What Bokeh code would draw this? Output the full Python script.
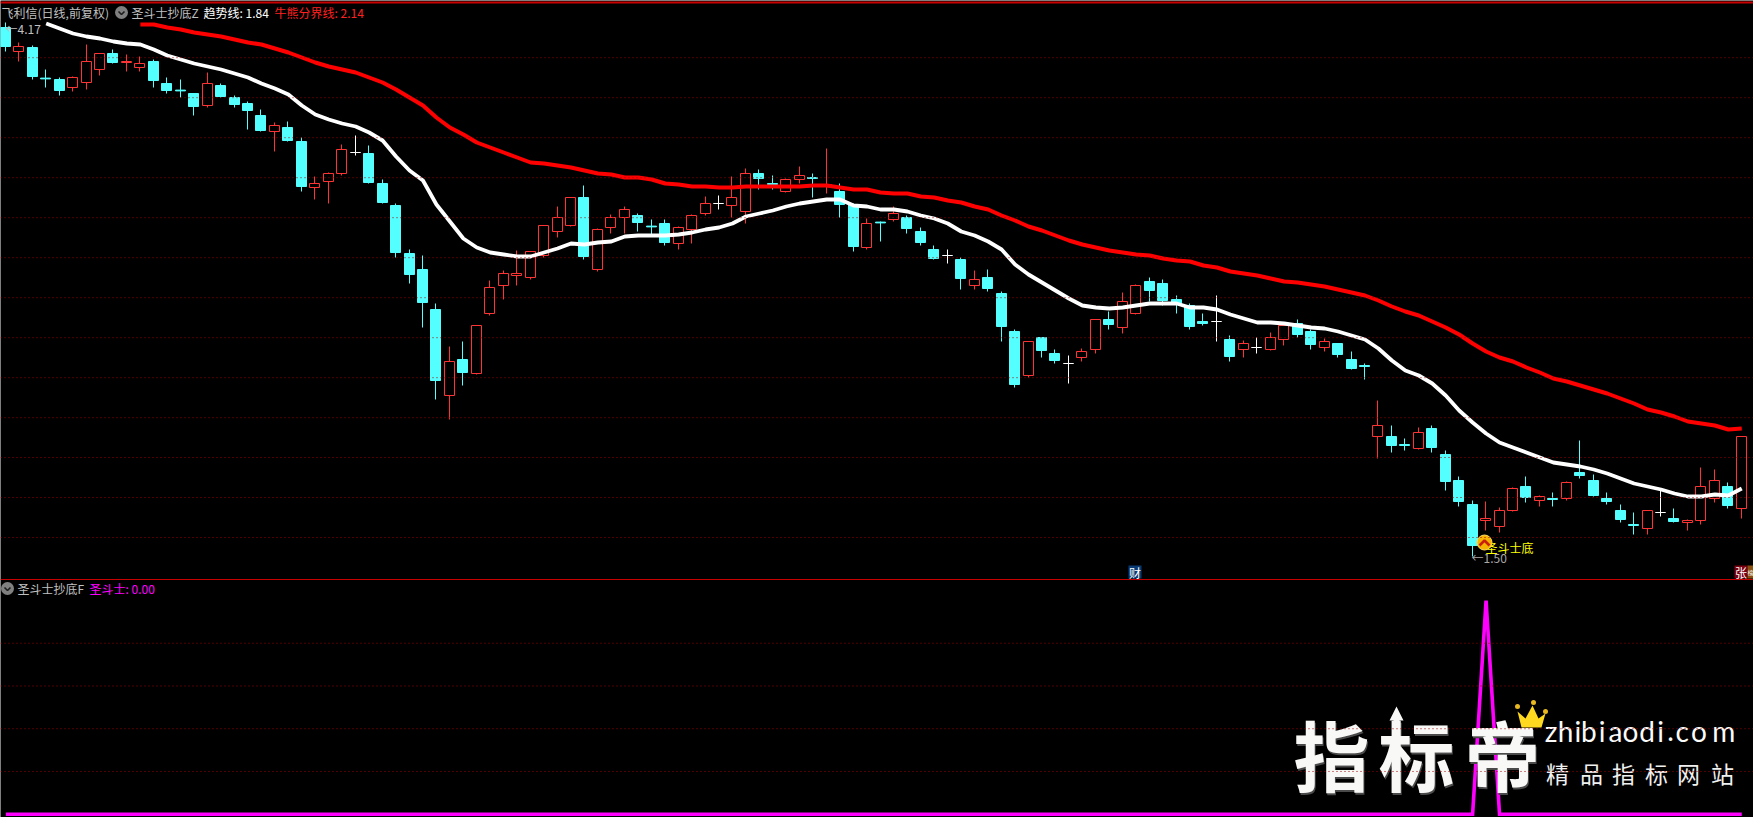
import math
from bokeh.plotting import figure
from bokeh.models import Range1d, Span, ColumnDataSource
from bokeh.core.properties import value
from bokeh.embed import file_html
from bokeh.resources import INLINE

highs = [4.17,4.07,4.055,3.935,3.895,3.9,4.06,4.015,4.035,4.01, 4.0,3.985,3.895,3.885,3.815,3.92,3.865,3.805,3.775,3.735,
 3.67,3.675,3.595,3.4,3.42,3.56,3.605,3.555,3.385,3.265, 3.035,3.005,2.765,2.55,2.575,2.655,2.88,2.93,3.03,3.025,
 3.155,3.25,3.295,3.355,3.14,3.21,3.25,3.215,3.185,3.185, 3.15,3.21,3.3,3.305,3.4,3.44,3.435,3.405,3.39,3.45,
 3.415,3.54,3.365,3.265,3.19,3.175,3.25,3.205,3.145,3.055, 3.035,2.995,2.93,2.935,2.825,2.635,2.575,2.595,2.535,2.505,
 2.54,2.685,2.725,2.82,2.86,2.895,2.885,2.805,2.765,2.715, 2.805,2.605,2.58,2.595,2.62,2.655,2.685,2.635,2.59,2.565,
 2.525,2.465,2.28,2.155,2.09,2.145,2.155,2.03,1.9,1.78, 1.775,1.745,1.845,1.9,1.805,1.82,1.875,2.08,1.91,1.82,
 1.76,1.72,1.73,1.83,1.74,1.685,1.945,1.935,1.87,2.1]
lows = [4.025,3.975,3.885,3.845,3.805,3.825,3.835,3.905,3.965,3.925, 3.925,3.845,3.815,3.795,3.705,3.745,3.795,3.745,3.635,3.625,
 3.525,3.575,3.325,3.285,3.265,3.405,3.505,3.365,3.265,2.995, 2.865,2.645,2.285,2.185,2.355,2.41,2.705,2.785,2.855,2.885,
 2.995,3.095,3.15,2.985,2.925,3.115,3.115,3.125,3.105,3.055, 3.035,3.065,3.205,3.235,3.195,3.165,3.335,3.335,3.32,3.365,
 3.295,3.315,3.195,3.025,3.035,3.075,3.175,3.115,3.055,2.985, 2.965,2.835,2.835,2.825,2.575,2.345,2.395,2.495,2.465,2.365,
 2.475,2.515,2.635,2.615,2.71,2.775,2.755,2.715,2.635,2.655, 2.575,2.475,2.495,2.515,2.53,2.555,2.595,2.535,2.525,2.495,
 2.435,2.385,1.99,2.02,2.03,2.035,2.02,1.83,1.75,1.5, 1.63,1.62,1.725,1.77,1.75,1.75,1.78,1.89,1.8,1.76,
 1.67,1.61,1.61,1.7,1.67,1.63,1.66,1.77,1.74,1.69]
opens = [4.145,4.02,4.045,3.892,3.885,3.84,3.865,3.93,4.015,3.965, 3.94,3.975,3.865,3.832,3.815,3.75,3.855,3.795,3.765,3.705,
 3.62,3.645,3.575,3.34,3.37,3.41,3.52,3.515,3.365,3.255, 3.015,2.935,2.735,2.30,2.485,2.41,2.71,2.85,2.90,2.89,
 3.0,3.12,3.15,3.295,2.93,3.14,3.19,3.205,3.152,3.165, 3.06,3.13,3.21,3.265,3.25,3.22,3.415,3.365,3.32,3.38,
 3.395,3.355,3.325,3.26,3.04,3.172,3.18,3.195,3.125,3.035, 3.005,2.985,2.85,2.895,2.815,2.625,2.40,2.595,2.515,2.465,
 2.49,2.53,2.685,2.64,2.71,2.875,2.865,2.785,2.755,2.675, 2.675,2.585,2.53,2.545,2.53,2.58,2.665,2.625,2.54,2.565,
 2.485,2.455,2.095,2.10,2.06,2.035,2.14,2.01,1.88,1.76, 1.675,1.645,1.725,1.85,1.775,1.79,1.785,1.92,1.88,1.79,
 1.73,1.66,1.635,1.72,1.69,1.665,1.675,1.785,1.85,1.735]
closes = [4.045,4.05,3.895,3.888,3.825,3.895,3.975,4.015,3.965,3.975, 3.965,3.875,3.825,3.828,3.745,3.865,3.795,3.755,3.725,3.625,
 3.655,3.575,3.345,3.365,3.415,3.535,3.52,3.365,3.265,3.015, 2.905,2.765,2.375,2.475,2.415,2.655,2.845,2.915,2.915,3.025,
 3.155,3.195,3.295,2.995,3.135,3.195,3.235,3.165,3.148,3.065, 3.145,3.205,3.265,3.265,3.295,3.415,3.385,3.36,3.385,3.405,
 3.385,3.36,3.255,3.045,3.165,3.168,3.215,3.135,3.065,2.985, 3.005,2.885,2.885,2.835,2.645,2.355,2.575,2.525,2.475,2.465,
 2.525,2.685,2.655,2.775,2.855,2.825,2.775,2.76,2.645,2.665, 2.675,2.495,2.565,2.545,2.595,2.655,2.605,2.555,2.575,2.505,
 2.435,2.445,2.155,2.05,2.05,2.12,2.04,1.87,1.77,1.55, 1.69,1.73,1.84,1.79,1.80,1.78,1.87,1.90,1.80,1.77,
 1.68,1.65,1.73,1.72,1.67,1.68,1.85,1.88,1.75,2.10]
trend_line = [4.165,4.14,4.115,4.10,4.09,4.075,4.065,4.06,4.035,4.005,3.985,3.965,3.95,3.935,3.915,3.895,3.865,3.84,3.81,3.755,
 3.71,3.685,3.665,3.65,3.62,3.58,3.50,3.43,3.38,3.26,3.175,3.09,3.045,3.02,3.01,3.00,3.00,3.02,3.04,3.065,
 3.06,3.07,3.075,3.10,3.105,3.105,3.105,3.11,3.12,3.135,3.145,3.165,3.20,3.215,3.23,3.25,3.265,3.275,3.285,3.285,
 3.255,3.25,3.235,3.235,3.225,3.205,3.19,3.165,3.125,3.105,3.075,3.035,2.96,2.91,2.87,2.83,2.79,2.755,2.745,2.74,
 2.745,2.755,2.765,2.765,2.765,2.745,2.745,2.735,2.71,2.69,2.67,2.67,2.665,2.655,2.645,2.64,2.625,2.605,2.585,2.54,
 2.48,2.43,2.405,2.365,2.305,2.23,2.17,2.115,2.07,2.045,2.02,1.995,1.97,1.96,1.95,1.935,1.915,1.89,1.865,1.85,
 1.835,1.815,1.80,1.80,1.81,1.805,1.84]
bull_bear_line = [4.16,4.16,4.145,4.135,4.12,4.11,4.10,4.085,4.07,4.06,4.04,4.02,3.995,3.97,3.95,3.935,3.92,3.895,3.87,3.835,
 3.795,3.755,3.695,3.645,3.61,3.57,3.545,3.52,3.495,3.47,3.465,3.455,3.445,3.43,3.415,3.41,3.395,3.395,3.385,3.365,
 3.36,3.35,3.35,3.345,3.345,3.35,3.35,3.35,3.35,3.35,3.355,3.355,3.345,3.335,3.335,3.32,3.315,3.315,3.30,3.295,
 3.28,3.27,3.25,3.235,3.205,3.18,3.15,3.13,3.105,3.08,3.06,3.045,3.03,3.02,3.01,3.005,2.99,2.98,2.975,2.955,
 2.945,2.925,2.915,2.905,2.89,2.875,2.87,2.86,2.85,2.835,2.82,2.805,2.78,2.75,2.725,2.705,2.675,2.645,2.61,2.565,
 2.525,2.495,2.475,2.445,2.42,2.39,2.375,2.355,2.335,2.315,2.29,2.265,2.235,2.22,2.20,2.175,2.165,2.155,2.135,2.14]
signal = [0]*110 + [1] + [0]*19
price_grid = [3.994,3.794,3.594,3.394,3.194,2.994,2.794,2.594,2.394,2.194,1.995,1.795,1.595]
signal_grid = [0.8,0.6,0.4,0.2]

CYAN, RED, WHITE = "#54ffff", "#ff3333", "#ffffff"
FONT = "Noto Sans CJK SC"
SPACING = 13.457
N = len(closes)

def xd(px): return (px - 5.3) / SPACING
def yd(py): return 4.28 - py / 200
def snap(i):
    # the pixel column the bar falls in, as a bar position (the renderer adds half a pixel itself)
    return xd(math.floor(5.3 + SPACING * i))

p = figure(width=1753, height=817, output_backend="svg", toolbar_location=None,
           x_range=Range1d(xd(0), xd(1753)), y_range=Range1d(yd(817), yd(0)),
           background_fill_color="#000000", border_fill_color="#000000",
           min_border=0, outline_line_color=None, x_axis_location=None, y_axis_location=None)
p.grid.visible = False
p.extra_y_ranges = {"sub": Range1d(-3.3 / 213.7, 813.7 / 213.7)}

for g in price_grid:
    p.add_layout(Span(location=g, dimension="width", line_color="#a00000", line_width=1, line_dash="1 3"))
for g in signal_grid:
    p.add_layout(Span(location=g, dimension="width", y_range_name="sub", line_color="#a00000", line_width=1, line_dash="1 3"))
for py, w in ((2, 2), (579, 1)):
    p.add_layout(Span(location=yd(py), dimension="width", line_color="#c80000", line_width=w))

# candles
idx = {"c": [], "r": [], "w": []}
for i in range(N):
    idx["r" if closes[i] > opens[i] else "c" if closes[i] < opens[i] else "w"].append(i)
half = 5 / SPACING
for k, col, fill in (("c", CYAN, CYAN), ("r", RED, None), ("w", WHITE, None)):
    ii = idx[k]
    tops = [max(opens[i], closes[i]) for i in ii]
    bots = [min(opens[i], closes[i]) for i in ii]
    bots = [b + 0.005 if t - b >= 0.01 else b for t, b in zip(tops, bots)]
    src = ColumnDataSource(dict(
        x=[snap(i) for i in ii],
        hi=[highs[i] for i in ii], lo=[lows[i] for i in ii],
        top=tops, bot=bots,
        left=[snap(i) - half for i in ii], right=[snap(i) + half for i in ii]))
    # the wick stops at the body for a hollow candle
    if k == "r":
        p.segment(x0="x", y0="hi", x1="x", y1="top", source=src, line_color=col, line_width=1)
        p.segment(x0="x", y0="bot", x1="x", y1="lo", source=src, line_color=col, line_width=1)
    else:
        p.segment(x0="x", y0="hi", x1="x", y1="lo", source=src, line_color=col, line_width=1)
    p.quad(left="left", right="right", top="top", bottom="bot", source=src,
           fill_color=fill, line_color=col, line_width=1)

p.line(list(range(N - len(trend_line), N)), trend_line, line_color=WHITE, line_width=3.8)
p.line(list(range(N - len(bull_bear_line), N)), bull_bear_line, line_color="#ff0000", line_width=4)
p.line(list(range(N)), signal, y_range_name="sub", line_color="#ff00ff", line_width=3.6, line_join="miter")

def txt(px, py, s, color, size=12, align="left", bold=False, font=FONT):
    p.text(x=[xd(px)], y=[yd(py)], text=[s], text_color=color, text_font=value(font),
           text_font_size=f"{size}px", text_align=align, text_baseline="middle",
           text_font_style="bold" if bold else "normal")

def icon(px, py):
    p.scatter([xd(px)], [yd(py)], size=13, marker="circle", fill_color="#808080", line_color=None)
    p.line([xd(px - 3), xd(px), xd(px + 3)], [yd(py - 1), yd(py + 2), yd(py - 1)], line_color="#1c1c1c", line_width=1.6)

# header rows
txt(1, 12, "飞利信(日线,前复权)", "#c0c0c0")
icon(121, 12)
txt(131, 12, "圣斗士抄底Z", "#c0c0c0")
txt(203, 12, "趋势线: 1.84", WHITE)
txt(274, 12, "牛熊分界线: 2.14", "#ff2020")
icon(7, 588)
txt(17, 588, "圣斗士抄底F", "#c0c0c0")
txt(89, 588, "圣斗士: 0.00", "#ff00ff")

# extreme price notes
txt(5, 28, "←4.17", "#c0c0c0", 12)
txt(1471, 557, "←1.50", "#a8a8a8", 12)
txt(1485, 547, "圣斗士底", "#ffff00", 12)
p.scatter([xd(1484)], [yd(542)], size=15, marker="circle", fill_color="#f5b400", line_color="#ffd860", line_width=1)
p.line([xd(1479), xd(1484), xd(1489)], [yd(545), yd(540), yd(545)], line_color="#c8200c", line_width=2.6)

# flags
p.quad(left=[xd(1128), xd(1734), xd(1747)], right=[xd(1141), xd(1747), xd(1753)],
       top=[yd(565)] * 3, bottom=[yd(578)] * 3, fill_color=["#0a3a74", "#7a0012", "#8a5010"], line_color=None)
txt(1134.5, 571.5, "财", WHITE, 12, "center")
txt(1740.5, 571.5, "张", WHITE, 12, "center")
txt(1750, 571.5, "榜", WHITE, 6, "center")

# watermark
for cx, ch in zip((1331, 1416, 1502), "指标帝"):
    txt(cx + 1, 754, ch, "#4a4a4a", 76, "center", True)
    txt(cx, 752, ch, "#f8f8f6", 76, "center", True)
p.patch([xd(1396), xd(1403), xd(1399), xd(1399), xd(1393), xd(1393), xd(1389)],
        [yd(706), yd(720), yd(720), yd(730), yd(730), yd(720), yd(720)], fill_color="#f8f8f6", line_color=None)
p.patch([xd(1517), xd(1525), xd(1532), xd(1538), xd(1545), xd(1541), xd(1521)],
        [yd(711), yd(718), yd(705), yd(718), yd(713), yd(727), yd(727)], fill_color="#ffd820", line_color=None)
p.scatter([xd(1517), xd(1533), xd(1545)], [yd(706), yd(702), yd(711)], size=5, marker="circle",
          fill_color="#e8b820", line_color=None)
for zx, ch in zip((932, 975, 1012, 1045, 1085, 1125, 1170, 1220, 1260, 1290, 1325, 1375, 1450), "zhibiaodi.com"):
    txt(1240 + zx / 3, 730, ch, "#fbfbfb", 28, "center", False, "Lato")
for cx, ch in zip((1557, 1591, 1623, 1656, 1688, 1722), "精品指标网站"):
    txt(cx, 772, ch, "#f0f0f0", 23, "center")

open("out.html", "w").write(file_html(p, INLINE))
